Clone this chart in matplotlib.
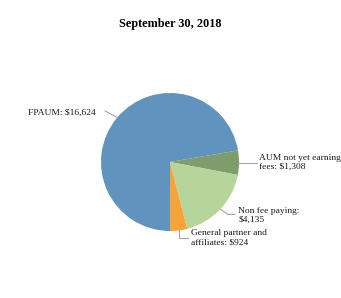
import matplotlib
matplotlib.use("Agg")
import matplotlib.pyplot as plt
import numpy as np

labels = ["FPAUM: $16,624", "AUM not yet earning\nfees: $1,308", "Non fee paying:\n$4,135", "General partner and\naffiliates: $924"]
values = [16624, 1308, 4135, 924]
colors = ["#6093BE", "#7E9C6C", "#B6D59A", "#F6A43A"]
title = "September 30, 2018"

plt.rcParams['font.family'] = ['Liberation Serif', 'DejaVu Serif']

W, H = 341, 298
fig = plt.figure(figsize=(W/100, H/100), dpi=100)
cx, cy, r = 170, 136, 69
ax = fig.add_axes([(cx-r)/W, (cy-r)/H, 2*r/W, 2*r/H])

wedges, _ = ax.pie(values, colors=colors, startangle=270, counterclock=False,
                   radius=1, wedgeprops=dict(linewidth=0))
ax.set_xlim(-1, 1); ax.set_ylim(-1, 1)
ax.axis('off')

fig.text(cx/W, 1-24/H, title, ha='center', va='center', fontsize=8.8, fontweight='bold')

mids = [np.deg2rad((w.theta1+w.theta2)/2) for w in wedges]
lc = "#A6A6A6"
fs = 6.8
tc = "#1a1a1a"
# FPAUM
a = mids[0]
ex, ey = np.cos(a), np.sin(a)
ax.plot([ex, -0.94], [ey, 0.74], color=lc, lw=0.8, clip_on=False)
ax.text(-1.07, 0.72, labels[0], ha='right', va='center', fontsize=fs, color=tc, clip_on=False)
# AUM
a = mids[1]
ex, ey = np.cos(a), np.sin(a)
ax.plot([ex, 1.26], [ey, ey], color=lc, lw=0.8, clip_on=False)
ax.text(1.29, ey+0.01, labels[1], ha='left', va='center', fontsize=fs, color=tc, clip_on=False, linespacing=1.15)
# Non fee
a = mids[2]
ex, ey = np.cos(a), np.sin(a)
ax.plot([ex, 0.84, 0.94], [ey, -0.76, -0.76], color=lc, lw=0.8, clip_on=False)
ax.text(0.99, -0.77, labels[2], ha='left', va='center', fontsize=fs, color=tc, clip_on=False, linespacing=1.15)
# GP
a = mids[3]
ex, ey = np.cos(a), np.sin(a)
ax.plot([ex, ex, 0.26], [ey, -1.10, -1.10], color=lc, lw=0.8, clip_on=False)
ax.text(0.30, -1.10, labels[3], ha='left', va='center', fontsize=fs, color=tc, clip_on=False, linespacing=1.15)

fig.savefig("out.png", dpi=100)
